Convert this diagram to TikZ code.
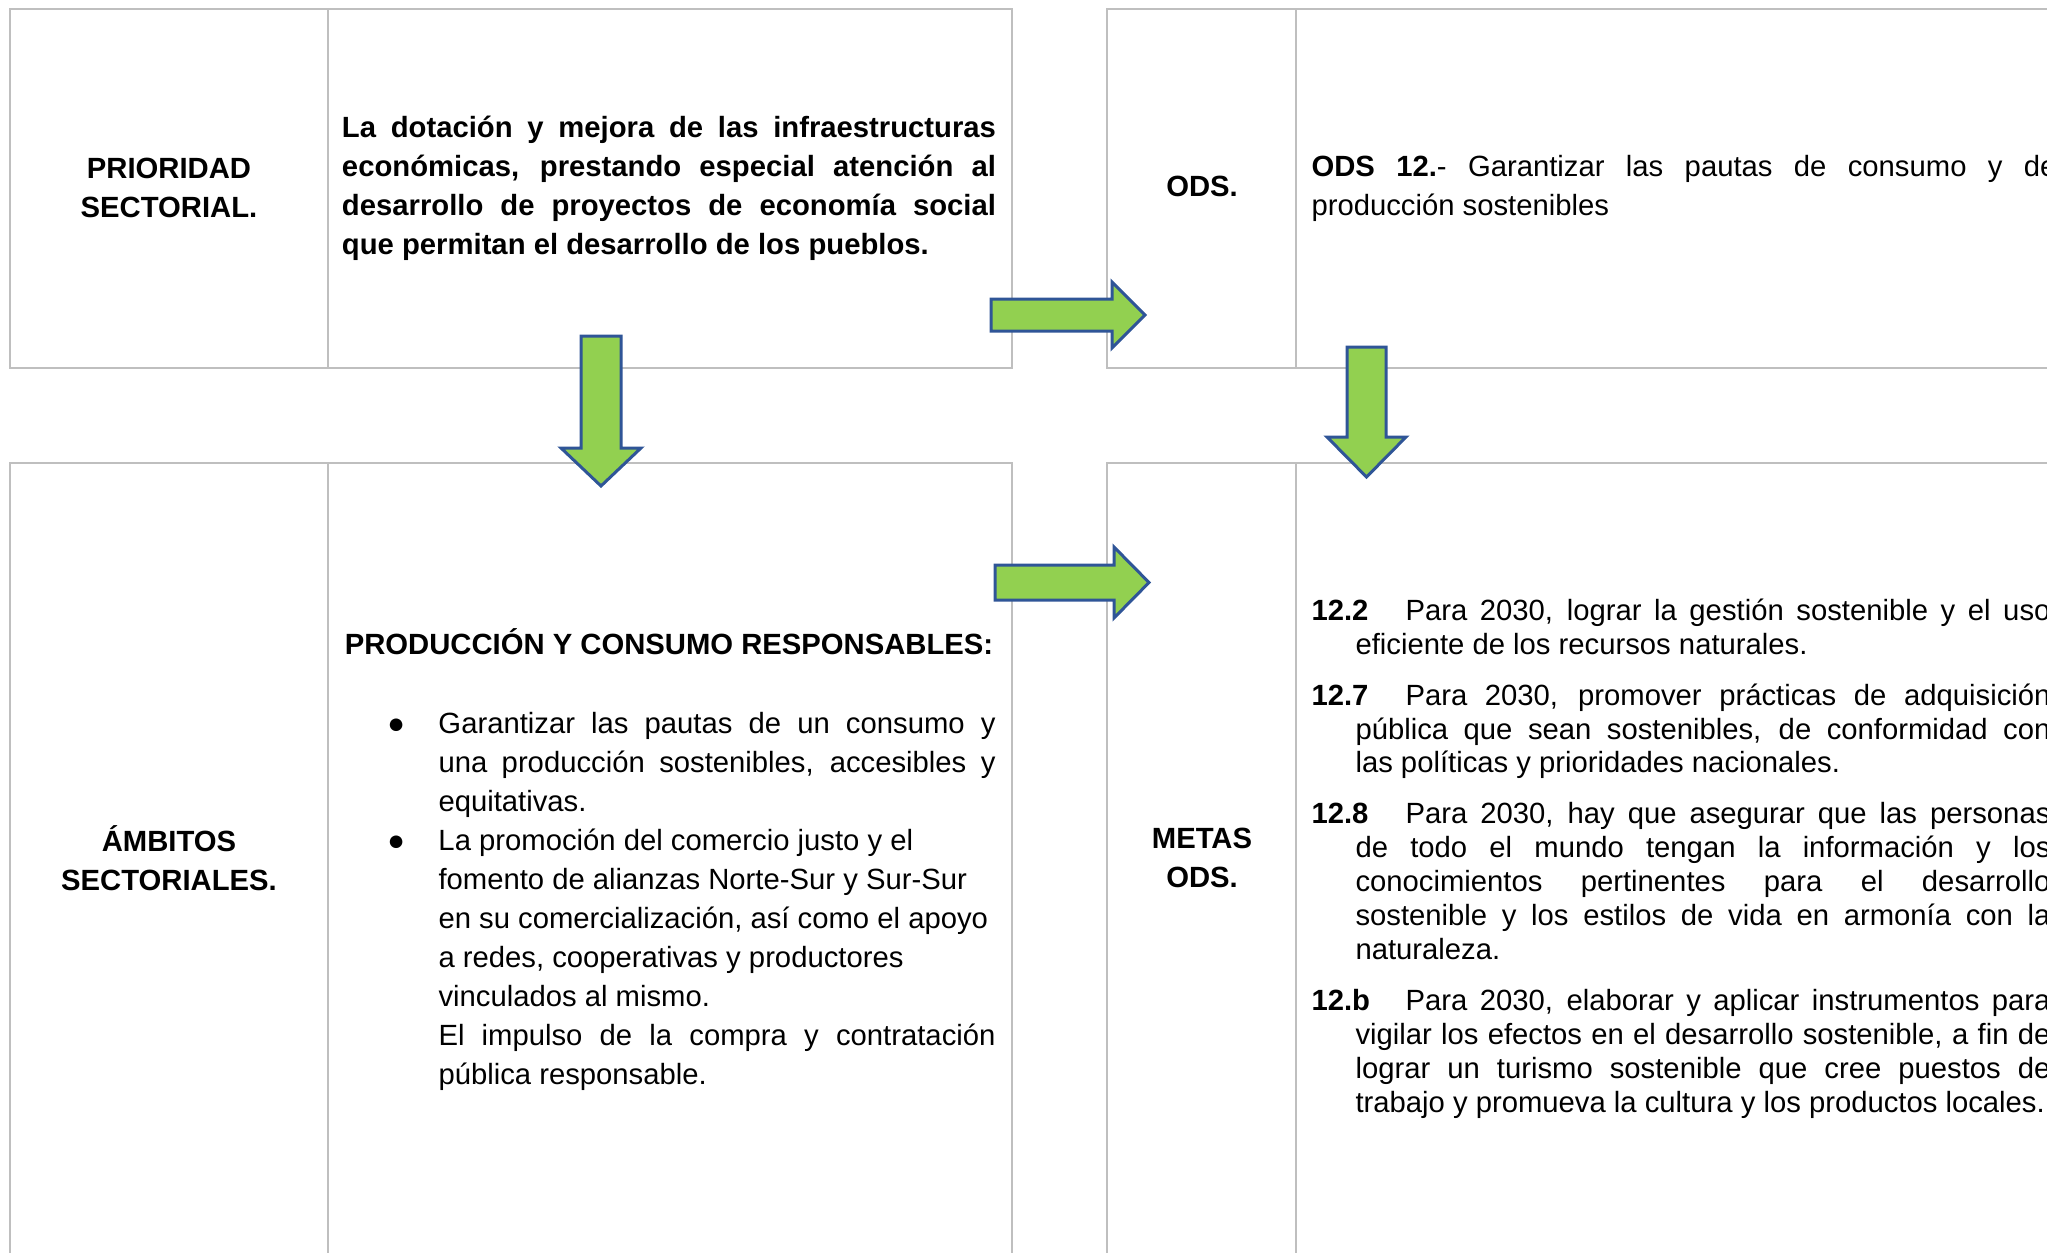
\documentclass[tikz,border=0pt]{standalone}
\usepackage{fontspec}
\setmainfont{Liberation Sans}
\usepackage{xcolor}
\usepackage{tikz}
\usetikzlibrary{positioning}

\definecolor{cellgray}{HTML}{BFBFBF}
\definecolor{arrowgreen}{HTML}{92D050}
\definecolor{arrowblue}{HTML}{2F5597}

\setlength{\parindent}{0pt}
\hyphenpenalty=10000
\exhyphenpenalty=10000
\hbadness=10000
\tolerance=9999

\begin{document}
\begin{tikzpicture}[x=0.4pt, y=-0.4pt,
    cellline/.style={draw=cellgray, line width=0.8pt},
    bigarrow/.style={draw=arrowblue, fill=arrowgreen, line width=1.2pt},
    headtxt/.style={inner sep=0pt, align=center, font=\fontsize{11.7pt}{15.6pt}\selectfont\bfseries},
    bodytxt/.style={inner sep=0pt, align=justify, font=\fontsize{11.7pt}{15.6pt}\selectfont}]
    \clip (0,0) rectangle (2047,1253);

    % Tables
    \draw[cellline] (10,9) rectangle (1012,368) (328,9) -- (328,368);
    \draw[cellline] (1107,9) rectangle (2060,368) (1296,9) -- (1296,368);
    \draw[cellline] (10,463) rectangle (1012,1270) (328,463) -- (328,1270);
    \draw[cellline] (1107,463) rectangle (2060,1270) (1296,463) -- (1296,1270);

    % Nodes
    \node[headtxt] (prioridad) at (169,188) {PRIORIDAD\\SECTORIAL.};
    \node[bodytxt, text width=261.6pt, font=\fontsize{11.7pt}{15.6pt}\selectfont\bfseries] (dotacion) at (669,188)
        {La dotación y mejora de las infraestructuras\linebreak económicas, prestando especial atención al\linebreak desarrollo de proyectos de economía social\linebreak que permitan el desarrollo de los pueblos.};
    \node[headtxt] (ods) at (1202,186) {ODS.};
    \node[bodytxt, text width=298pt, anchor=west] (ods12) at (1311,188)
        {\textbf{ODS 12.}- Garantizar las pautas de consumo y de\linebreak producción sostenibles};

    \node[headtxt] (ambitos) at (169,858) {ÁMBITOS\\SECTORIALES.};
    \node[headtxt] (prodhead) at (669,642) {PRODUCCIÓN Y CONSUMO RESPONSABLES:};
    \node[bodytxt, text width=222.8pt, below=22.4pt of prodhead, xshift=19.2pt] (ambitoslist)
        {\leavevmode\llap{●\hspace{13.4pt}}Garantizar las pautas de un consumo y\linebreak una producción sostenibles, accesibles y\linebreak equitativas.\par
         \leavevmode\llap{●\hspace{13.4pt}}La promoción del comercio justo y el\newline fomento de alianzas Norte-Sur y Sur-Sur\newline en su comercialización, así como el apoyo\newline a redes, cooperativas y productores\newline vinculados al mismo.\newline El impulso de la compra y contratación\linebreak pública responsable.\par};
    \node[headtxt] (metas) at (1202,858) {METAS\\ODS.};
    \node[bodytxt, text width=295.6pt, anchor=west, font=\fontsize{11.7pt}{13.56pt}\selectfont] (metaslist) at (1311,858.5)
        {\parskip=6.8pt
         \hangindent=17.6pt\hangafter=1 \makebox[37.6pt][l]{\textbf{12.2}}Para 2030, lograr la gestión sostenible y el uso\linebreak eficiente de los recursos naturales.\par
         \hangindent=17.6pt\hangafter=1 \makebox[37.6pt][l]{\textbf{12.7}}Para 2030, promover prácticas de adquisición\linebreak pública que sean sostenibles, de conformidad con\linebreak las políticas y prioridades nacionales.\par
         \hangindent=17.6pt\hangafter=1 \makebox[37.6pt][l]{\textbf{12.8}}Para 2030, hay que asegurar que las personas\linebreak de todo el mundo tengan la información y los\linebreak conocimientos pertinentes para el desarrollo\linebreak sostenible y los estilos de vida en armonía con la\linebreak naturaleza.\par
         \hangindent=17.6pt\hangafter=1 \makebox[37.6pt][l]{\textbf{12.b}}Para 2030, elaborar y aplicar instrumentos para\linebreak vigilar los efectos en el desarrollo sostenible, a fin de\linebreak lograr un turismo sostenible que cree puestos de\linebreak trabajo y promueva la cultura y los productos locales.\par};

    % Arrows
    \draw[bigarrow] (991,299) -- (1112,299) -- (1112,282) -- (1145,315) -- (1112,348) -- (1112,331) -- (991,331) -- cycle;
    \draw[bigarrow] (995,565) -- (1114,565) -- (1114,547) -- (1149,582.5) -- (1114,618) -- (1114,600) -- (995,600) -- cycle;
    \draw[bigarrow] (581,336) -- (581,448) -- (561,448) -- (601,486) -- (641,448) -- (621,448) -- (621,336) -- cycle;
    \draw[bigarrow] (1347,347) -- (1347,437) -- (1327,437) -- (1366.5,477) -- (1406,437) -- (1386,437) -- (1386,347) -- cycle;
\end{tikzpicture}
\end{document}
